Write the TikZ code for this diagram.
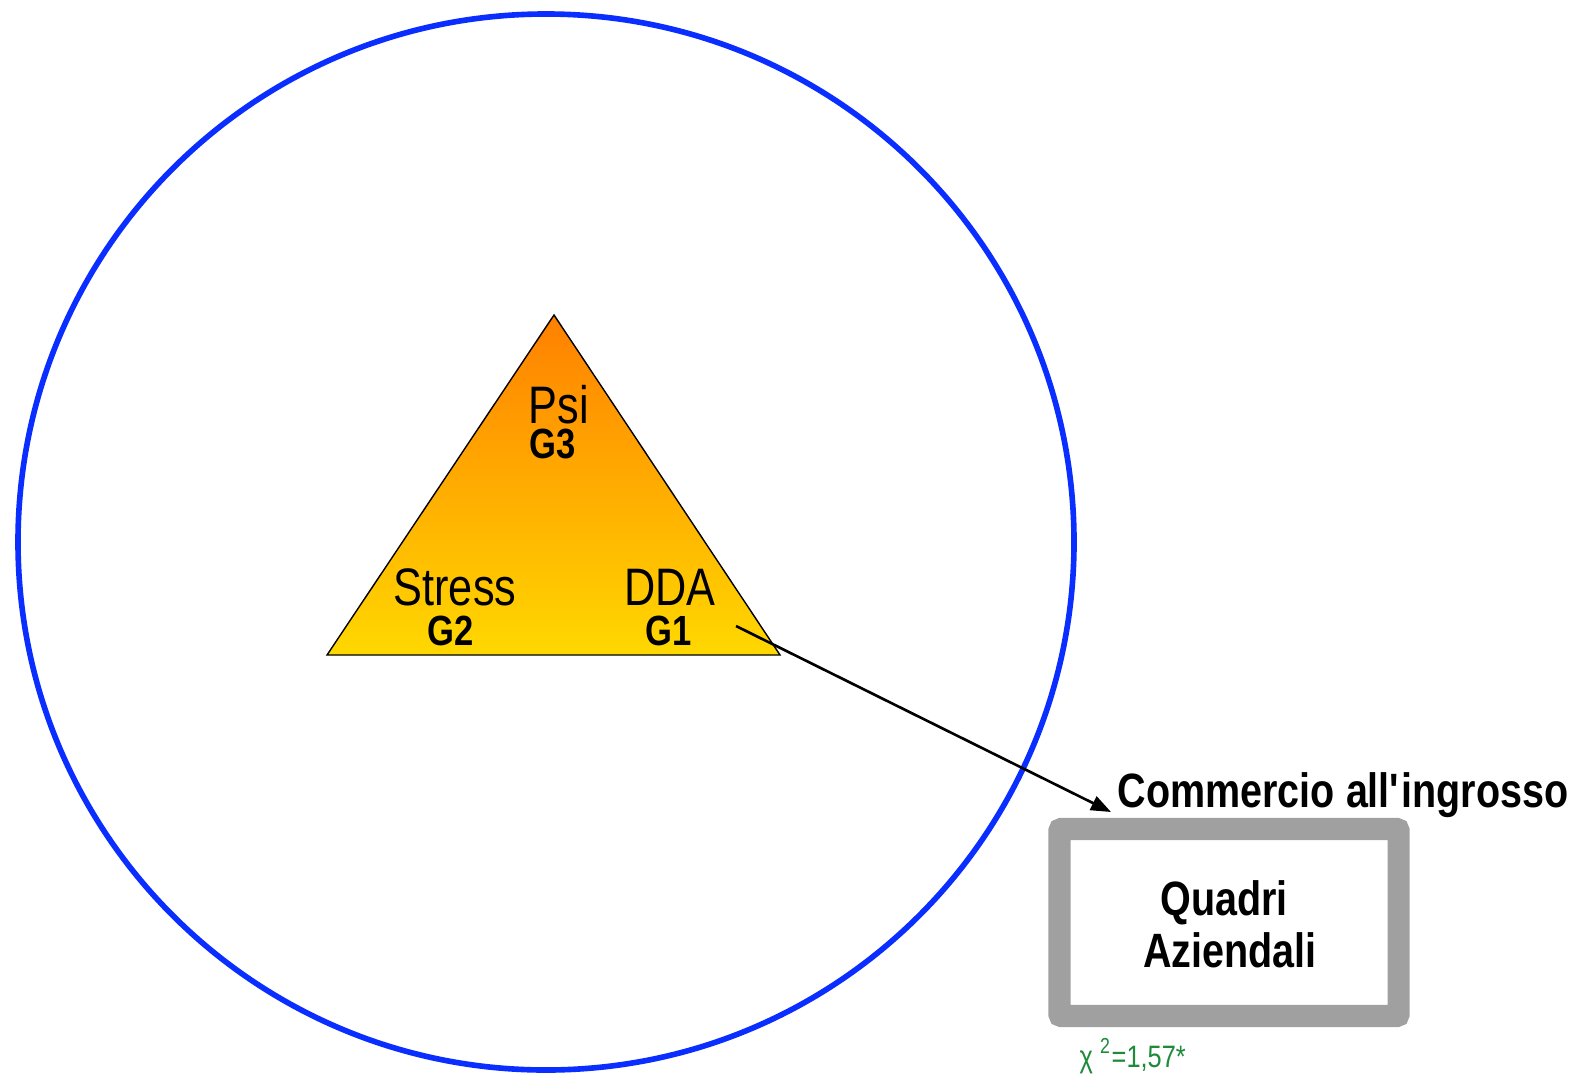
\documentclass[tikz,border=0pt]{standalone}
\usepackage{fontspec}
\setmainfont[FakeStretch=0.82]{Liberation Sans}
\usetikzlibrary{arrows.meta}
\definecolor{ringblue}{HTML}{0A2EFF}
\definecolor{topfill}{HTML}{FF8000}
\definecolor{basefill}{HTML}{FFD800}
\definecolor{boxgray}{HTML}{A0A0A0}
\definecolor{chigreen}{HTML}{1E8A3A}

\begin{document}
\begin{tikzpicture}[x=0.01cm,y=-0.01cm]
              \tikzstyle{every node}+=[inner sep=0pt]
              \tikzstyle{lab}=[anchor=base,font=\fontsize{15}{17}\selectfont]
              \tikzstyle{grp}=[anchor=base,font=\fontsize{12}{14}\selectfont\bfseries]
              \tikzstyle{big}=[font=\fontsize{13.7}{16}\selectfont\bfseries]
              \useasboundingbox (0,0) rectangle (1571,1073);
              \draw [ringblue,line width=1.6pt] (546,542) circle (528);
              \shadedraw [top color=topfill,bottom color=basefill,draw=black,line width=0.4pt]
                (554,315) -- (780,655) -- (327,655) -- cycle;
              \node [lab] (psi) at (559,423) {Psi};
              \node [grp] (g3) at (553,458) {G3};
              \node [lab] (stress) at (455,605) {Stress};
              \node [grp] (g2) at (451,645) {G2};
              \node [lab] (dda) at (670,605) {DDA};
              \node [grp] (g1) at (669,645) {G1};
              \node [big,anchor=base west] (sector) at (1117,807) {Commercio all\textquotesingle ingrosso};
              \node [draw=boxgray,line width=6.3pt,rounded corners=0.6pt,
                     minimum width=3.39cm,minimum height=1.87cm] (box) at (1229,922.5) {};
              \node [big,anchor=base] (quadri) at (1224,915) {Quadri};
              \node [big,anchor=base] (azi) at (1230,967) {Aziendali};
              \node [anchor=base west,text=chigreen,font=\fontsize{8.8}{10}\selectfont]
                (chi) at (1079,1067) {χ \textsuperscript{2}=1,57*};
              \coordinate (from) at (736,626);
              \coordinate (tip) at (1111,812);
              \draw [black,line width=0.75pt,-{Triangle[length=0.2cm,width=0.15cm]}] (from) -- (tip);
            \end{tikzpicture}
\end{document}
